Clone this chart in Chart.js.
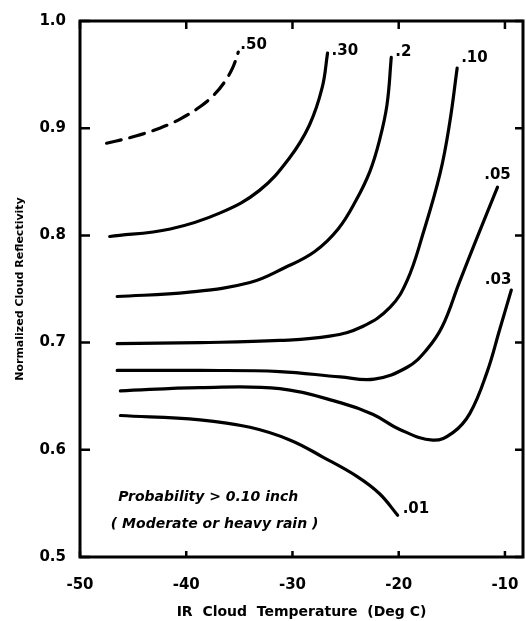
<!DOCTYPE html>
<html>
<head>
<meta charset="utf-8">
<script src="https://cdn.jsdelivr.net/npm/chart.js@4"></script>
<style>
  html, body { margin: 0; padding: 0; background: #fff; }
</style>
</head>
<body>
<canvas id="contours" width="526" height="621"></canvas>
<script>
// contour levels (probability of > 0.10 inch)
const levels = ['.50', '.30', '.2', '.10', '.05', '.03', '.01'];

// IR cloud temperature (deg C) / normalized reflectivity
const t50 = [-47.5, -45.0, -42.5, -40.5, -38.7, -37.4, -36.4, -35.6, -35.1];
const r50 = [0.886, 0.892, 0.900, 0.909, 0.920, 0.931, 0.943, 0.957, 0.971];

const t30 = [-47.2, -41.5, -36.8, -33.1, -30.3, -28.4, -27.2, -26.7];
const r30 = [0.799, 0.806, 0.821, 0.842, 0.872, 0.903, 0.938, 0.970];

const t20 = [-46.5, -39.7, -34.0, -30.7, -27.9, -25.7, -24.0, -22.7, -21.8, -21.1, -20.7];
const r20 = [0.743, 0.747, 0.756, 0.770, 0.785, 0.806, 0.833, 0.860, 0.889, 0.922, 0.966];

const t10 = [-46.5, -38.7, -31.2, -26.5, -23.4, -20.8, -19.2, -17.7, -16.1, -15.2, -14.5];
const r10 = [0.699, 0.700, 0.702, 0.706, 0.715, 0.733, 0.758, 0.802, 0.858, 0.905, 0.956];

const t05 = [-46.5, -38.7, -31.2, -25.5, -22.3, -19.2, -17.4, -15.9, -14.3, -12.7, -10.7];
const r05 = [0.674, 0.674, 0.673, 0.668, 0.666, 0.677, 0.693, 0.715, 0.756, 0.796, 0.845];

const t03 = [-46.2, -38.7, -31.2, -25.5, -22.4, -19.9, -16.8, -14.9, -13.3, -11.7, -10.5, -9.4];
const r03 = [0.655, 0.658, 0.657, 0.644, 0.633, 0.619, 0.609, 0.616, 0.634, 0.672, 0.712, 0.749];

const t01 = [-46.2, -38.7, -34.0, -30.2, -27.1, -23.9, -21.8, -20.1];
const r01 = [0.632, 0.628, 0.621, 0.609, 0.593, 0.575, 0.559, 0.539];

const xTicks = [-50, -40, -30, -20, -10];
const yTicks = [0.5, 0.6, 0.7, 0.8, 0.9, 1.0];

const noteLines = ['Probability > 0.10 inch', '( Moderate or heavy rain )'];

const temps = [t50, t30, t20, t10, t05, t03, t01];
const refls = [r50, r30, r20, r10, r05, r03, r01];

// label placement relative to the end of each curve
const labelStyle = [
  { dx: 2, dy: -7, align: 'left' },
  { dx: 4, dy: -2, align: 'left' },
  { dx: 4, dy: -5, align: 'left' },
  { dx: 4, dy: -10, align: 'left' },
  { dx: 0, dy: -12, align: 'center' },
  { dx: 0, dy: -10, align: 'right' },
  { dx: 5, dy: -6, align: 'left' }
];

const datasets = levels.map((lv, i) => ({
  label: lv,
  data: temps[i].map((t, k) => ({ x: t, y: refls[i][k] })),
  showLine: true,
  borderColor: '#000',
  borderWidth: 3.2,
  borderCapStyle: 'round',
  borderJoinStyle: 'round',
  borderDash: i === 0 ? [15, 9] : [],
  pointRadius: 0,
  tension: 0.4,
  fill: false
}));

const tickFont = { family: 'DejaVu Sans', size: 15, weight: 'bold' };

const framePlugin = {
  id: 'frame',
  afterDraw(chart) {
    const ctx = chart.ctx;
    const a = chart.chartArea;
    const xs = chart.scales.x, ys = chart.scales.y;
    ctx.save();
    ctx.strokeStyle = '#000';
    ctx.lineWidth = 3;
    ctx.strokeRect(a.left, a.top, a.right - a.left, a.bottom - a.top);
    ctx.lineWidth = 2.5;
    ctx.beginPath();
    xTicks.forEach(v => {
      const px = xs.getPixelForValue(v);
      ctx.moveTo(px, a.bottom); ctx.lineTo(px, a.bottom - 6);
      ctx.moveTo(px, a.top); ctx.lineTo(px, a.top + 8);
    });
    yTicks.forEach(v => {
      const py = ys.getPixelForValue(v);
      ctx.moveTo(a.left, py); ctx.lineTo(a.left + 10, py);
      ctx.moveTo(a.right, py); ctx.lineTo(a.right - 8, py);
    });
    ctx.stroke();

    // contour labels
    ctx.fillStyle = '#000';
    ctx.font = 'bold 15px "DejaVu Sans"';
    ctx.textBaseline = 'middle';
    levels.forEach((lv, i) => {
      const n = temps[i].length - 1;
      const px = xs.getPixelForValue(temps[i][n]);
      const py = ys.getPixelForValue(refls[i][n]);
      ctx.textAlign = labelStyle[i].align;
      ctx.fillText(lv, px + labelStyle[i].dx, py + labelStyle[i].dy);
    });

    // note text
    ctx.font = 'italic bold 14px "DejaVu Sans"';
    ctx.textAlign = 'left';
    ctx.fillText(noteLines[0], xs.getPixelForValue(-46.4), ys.getPixelForValue(0.556));
    ctx.fillText(noteLines[1], xs.getPixelForValue(-47.1), ys.getPixelForValue(0.530));
    ctx.restore();
  }
};

new Chart(document.getElementById('contours').getContext('2d'), {
  type: 'scatter',
  data: { datasets },
  options: {
    responsive: false,
    animation: false,
    layout: { padding: { top: 21, right: 3, left: 0, bottom: 0 } },
    plugins: { legend: { display: false }, tooltip: { enabled: false } },
    scales: {
      x: {
        type: 'linear',
        min: -50,
        max: -8.3,
        afterFit: s => { s.height = 64; s.paddingLeft = 0; s.paddingRight = 0; },
        grid: { display: false },
        border: { display: false },
        ticks: {
          stepSize: 10,
          includeBounds: false,
          padding: 11,
          color: '#000',
          font: tickFont,
          callback: v => String(v)
        },
        title: {
          display: true,
          text: 'IR  Cloud  Temperature  (Deg C)',
          color: '#000',
          font: { family: 'DejaVu Sans', size: 14, weight: 'bold' },
          padding: { top: 0, bottom: 0 }
        }
      },
      y: {
        min: 0.5,
        max: 1.0,
        afterFit: s => { s.width = 80; s.paddingTop = 0; s.paddingBottom = 0; },
        grid: { display: false },
        border: { display: false },
        ticks: {
          stepSize: 0.1,
          padding: 6,
          color: '#000',
          font: tickFont,
          callback: v => Number(v).toFixed(1)
        },
        title: {
          display: true,
          text: 'Normalized Cloud Reflectivity',
          color: '#000',
          font: { family: 'DejaVu Sans', size: 11, weight: 'bold' },
          padding: { top: 14, bottom: 0 }
        }
      }
    }
  },
  plugins: [framePlugin]
});
</script>
</body>
</html>
